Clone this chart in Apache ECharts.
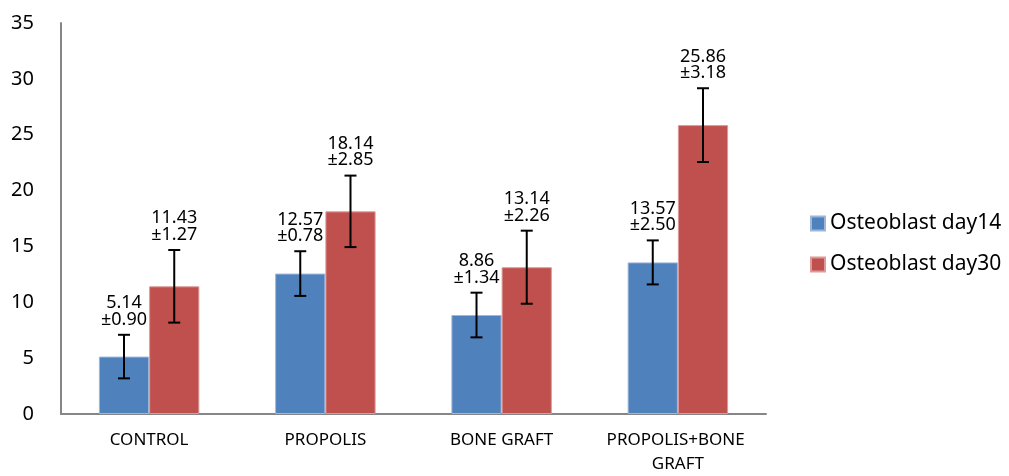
<!DOCTYPE html>
<html>
<head>
<meta charset="utf-8">
<script src="https://cdn.jsdelivr.net/npm/echarts@6/dist/echarts.min.js"></script>
<style>
html,body{margin:0;padding:0;background:#fff;}
#c{width:1009px;height:476px;}
</style>
</head>
<body>
<div id="c"></div>
<script>
const categories = ['CONTROL', 'PROPOLIS', 'BONE GRAFT', 'PROPOLIS+BONE GRAFT'];
const seriesNames = ['Osteoblast day14', 'Osteoblast day30'];
const day14 = [5.14, 12.57, 8.86, 13.57];
const day30 = [11.43, 18.14, 13.14, 25.86];
const sdLabel14 = ['0.90', '0.78', '1.34', '2.50'];
const sdLabel30 = ['1.27', '2.85', '2.26', '3.18'];
// error bar half-lengths as drawn in the picture
const errBar14 = [1.95, 2.0, 2.0, 1.97];
const errBar30 = [3.25, 3.2, 3.27, 3.3];
const yTicks = [0, 5, 10, 15, 20, 25, 30, 35];

const FONT = 'Noto Sans';
const BAR_FRAC = 0.285;

function errSeries(vals, errs, sds, side) {
  return {
    type: 'custom',
    name: 'err' + side,
    z: 10,
    data: vals.map((v, i) => [i, v, errs[i], sds[i]]),
    encode: { x: 0, y: 1 },
    renderItem: function (params, api) {
      const i = api.value(0), v = api.value(1), e = api.value(2);
      const band = api.size([1, 0])[0];
      const off = side * band * BAR_FRAC / 2;
      const c = api.coord([i, v]);
      const x = c[0] + off;
      const hi = api.coord([i, v + e])[1];
      const lo = api.coord([i, v - e])[1];
      const cap = 6;
      const st = { stroke: '#000', lineWidth: 2 };
      const txt = vals[i].toFixed(2) + '\n±' + sds[i];
      return {
        type: 'group',
        children: [
          { type: 'line', shape: { x1: x, y1: hi, x2: x, y2: lo }, style: st },
          { type: 'line', shape: { x1: x - cap, y1: hi, x2: x + cap, y2: hi }, style: st },
          { type: 'line', shape: { x1: x - cap, y1: lo, x2: x + cap, y2: lo }, style: st },
          { type: 'text', x: x, y: hi - 7,
            style: { text: txt, fontFamily: FONT, fontSize: 18, lineHeight: 16.5,
                     fill: '#000', align: 'center', verticalAlign: 'bottom' } }
        ]
      };
    }
  };
}

const chart = echarts.init(document.getElementById('c'));
chart.setOption({
  animation: false,
  backgroundColor: '#fff',
  textStyle: { fontFamily: FONT },
  grid: { left: 61, right: 243, top: 23, bottom: 60 },
  legend: {
    data: seriesNames,
    orient: 'vertical',
    left: 805,
    top: 208,
    itemWidth: 14,
    itemHeight: 14,
    itemGap: 20,
    icon: 'rect',
    textStyle: { fontFamily: FONT, fontSize: 21, color: '#000' }
  },
  xAxis: {
    type: 'category',
    data: categories,
    axisLine: { lineStyle: { color: '#868686', width: 2 } },
    axisTick: { show: false },
    axisLabel: { interval: 0, color: '#000', fontSize: 17, fontFamily: FONT, margin: 14,
                 width: 160, overflow: 'break', lineHeight: 24 }
  },
  yAxis: {
    type: 'value',
    min: 0, max: 35, interval: 5,
    axisLine: { show: true, lineStyle: { color: '#868686', width: 2 } },
    axisTick: { show: false },
    splitLine: { show: false },
    axisLabel: { color: '#000', fontSize: 20, fontFamily: FONT, margin: 27,
                 formatter: v => yTicks.includes(v) ? String(v) : '' }
  },
  series: [
    { type: 'bar', name: seriesNames[0], data: day14, barWidth: (BAR_FRAC * 100) + '%', barGap: '0%',
      itemStyle: { color: '#4F81BD', borderColor: '#9DB6DA', borderWidth: 1 } },
    { type: 'bar', name: seriesNames[1], data: day30, barWidth: (BAR_FRAC * 100) + '%', barGap: '0%',
      itemStyle: { color: '#C0504D', borderColor: '#DC9A98', borderWidth: 1 } },
    errSeries(day14, errBar14, sdLabel14, -1),
    errSeries(day30, errBar30, sdLabel30, 1)
  ]
});
</script>
</body>
</html>
